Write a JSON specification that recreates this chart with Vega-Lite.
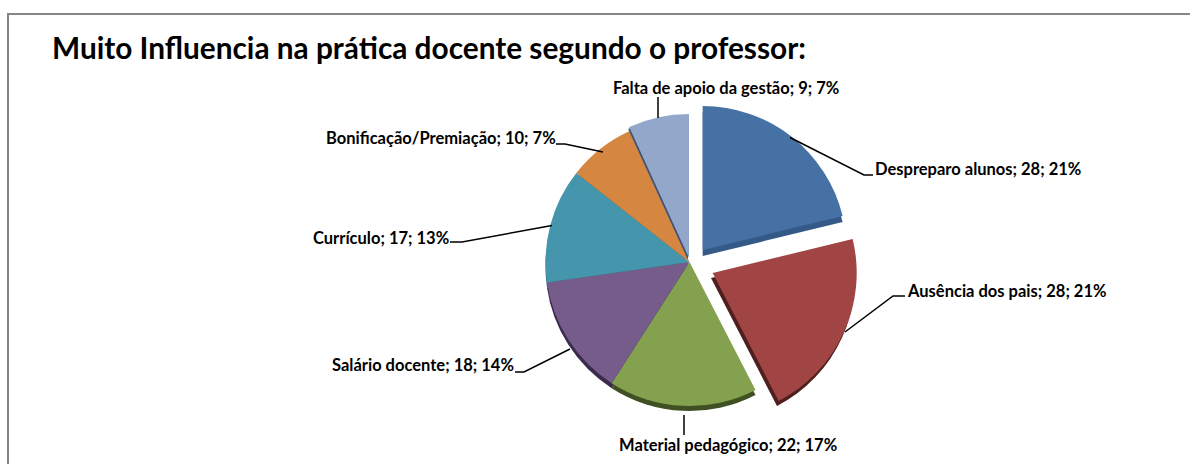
{
"$schema":"https://vega.github.io/schema/vega-lite/v6.json",
"width":1190,"height":464,"padding":0,"autosize":{"type":"none"},
"background":"white",
"view":{"stroke":null},
"title":{"text":"Muito Influencia na prática docente segundo o professor:","anchor":"start","frame":"group","dx":52,"dy":69,"font":"Lato","fontSize":29.8,"fontWeight":"bold","color":"#000000"},
"datasets":{
"fatias":[
{"categoria":"Despreparo alunos","valor":28,"ordem":1},
{"categoria":"Ausência dos pais","valor":28,"ordem":2},
{"categoria":"Material pedagógico","valor":22,"ordem":3},
{"categoria":"Salário docente","valor":18,"ordem":4},
{"categoria":"Currículo","valor":17,"ordem":5},
{"categoria":"Bonificação/Premiação","valor":10,"ordem":6},
{"categoria":"Falta de apoio da gestão","valor":9,"ordem":7}
],
"rotulos":[
{"rotulo":"Despreparo alunos; 28; 21%","px":875,"py":169.5},
{"rotulo":"Ausência dos pais; 28; 21%","px":908,"py":291.5},
{"rotulo":"Material pedagógico; 22; 17%","px":619,"py":445.5},
{"rotulo":"Salário docente; 18; 14%","px":332,"py":365.5},
{"rotulo":"Currículo; 17; 13%","px":313,"py":238.5},
{"rotulo":"Bonificação/Premiação; 10; 7%","px":326,"py":138.5},
{"rotulo":"Falta de apoio da gestão; 9; 7%","px":613,"py":88.5}
],
"guias":[
{"g":"a","n":1,"px":790,"py":137.5},{"g":"a","n":2,"px":864,"py":175},{"g":"a","n":3,"px":873,"py":175},
{"g":"b","n":1,"px":845,"py":332},{"g":"b","n":2,"px":893,"py":296},{"g":"b","n":3,"px":905,"py":296},
{"g":"c","n":1,"px":684,"py":415},{"g":"c","n":2,"px":684,"py":435},
{"g":"d","n":1,"px":570,"py":349},{"g":"d","n":2,"px":524,"py":372},{"g":"d","n":3,"px":515,"py":372},
{"g":"e","n":1,"px":552,"py":225.5},{"g":"e","n":2,"px":462,"py":242},{"g":"e","n":3,"px":450,"py":242},
{"g":"f","n":1,"px":603,"py":152},{"g":"f","n":2,"px":565,"py":144},{"g":"f","n":3,"px":556,"py":144},
{"g":"h","n":1,"px":658,"py":97},{"g":"h","n":2,"px":658,"py":118}
],
"moldura":[
{"n":1,"px":8,"py":464},{"n":2,"px":8,"py":14},{"n":3,"px":1190,"py":14}
]
},
"data":{"name":"fatias"},
"transform":[{"stack":"valor","sort":[{"field":"ordem","order":"ascending"}],"as":["a0","a1"]}],
"layer":[
{"data":{"name":"moldura"},"transform":[],"mark":{"type":"line","color":"#868686","strokeWidth":2,"clip":false},
 "encoding":{"x":{"field":"px","type":"quantitative","scale":{"domain":[0,1190],"nice":false,"zero":false},"axis":null},
 "y":{"field":"py","type":"quantitative","scale":{"domain":[0,464],"reverse":true,"nice":false,"zero":false},"axis":null},"order":{"field":"n"}}},
{"transform":[{"filter":"datum.ordem>=3 && datum.ordem<=6"}],"mark":{"type":"arc","outerRadius":144},
 "encoding":{"x":{"datum":689.5,"type":"quantitative"},"y":{"datum":267,"type":"quantitative"},
 "theta":{"field":"a0","type":"quantitative","scale":{"domain":[0,132]}},"theta2":{"field":"a1"},
 "color":{"field":"categoria","type":"nominal","legend":null,"scale":{"domain":["Material pedagógico","Salário docente","Currículo","Bonificação/Premiação"],"range":["#3f5022","#3a2b4d","#2d6475","#8f5525"]}}}},
{"transform":[{"filter":"datum.ordem>=3 && datum.ordem<=6"}],"mark":{"type":"arc","outerRadius":144},
 "encoding":{"x":{"datum":689.5,"type":"quantitative"},"y":{"datum":262,"type":"quantitative"},
 "theta":{"field":"a0","type":"quantitative","scale":{"domain":[0,132]}},"theta2":{"field":"a1"},
 "color":{"field":"categoria","type":"nominal","legend":null,"scale":{"domain":["Material pedagógico","Salário docente","Currículo","Bonificação/Premiação"],"range":["#84A14F","#755C8B","#4596AC","#D58741"]}}}},
{"transform":[{"filter":"datum.ordem==7"}],"mark":{"type":"arc","outerRadius":144},
 "encoding":{"x":{"datum":688,"type":"quantitative"},"y":{"datum":260,"type":"quantitative"},
 "theta":{"field":"a0","type":"quantitative","scale":{"domain":[0,132]}},"theta2":{"field":"a1"},
 "color":{"value":"#3f5272"}}},
{"transform":[{"filter":"datum.ordem==7"}],"mark":{"type":"arc","outerRadius":144},
 "encoding":{"x":{"datum":689,"type":"quantitative"},"y":{"datum":258,"type":"quantitative"},
 "theta":{"field":"a0","type":"quantitative","scale":{"domain":[0,132]}},"theta2":{"field":"a1"},
 "color":{"value":"#93A7CA"}}},
{"transform":[{"filter":"datum.ordem==1"}],"mark":{"type":"arc","outerRadius":144},
 "encoding":{"x":{"datum":702.7,"type":"quantitative"},"y":{"datum":256,"type":"quantitative"},
 "theta":{"field":"a0","type":"quantitative","scale":{"domain":[0,132]}},"theta2":{"field":"a1"},
 "color":{"value":"#355A87"}}},
{"transform":[{"filter":"datum.ordem==1"}],"mark":{"type":"arc","outerRadius":144},
 "encoding":{"x":{"datum":702.7,"type":"quantitative"},"y":{"datum":250,"type":"quantitative"},
 "theta":{"field":"a0","type":"quantitative","scale":{"domain":[0,132]}},"theta2":{"field":"a1"},
 "color":{"value":"#4671A4"}}},
{"transform":[{"filter":"datum.ordem==2"}],"mark":{"type":"arc","outerRadius":144},
 "encoding":{"x":{"datum":711,"type":"quantitative"},"y":{"datum":278,"type":"quantitative"},
 "theta":{"field":"a0","type":"quantitative","scale":{"domain":[0,132]}},"theta2":{"field":"a1"},
 "color":{"value":"#4F1F1E"}}},
{"transform":[{"filter":"datum.ordem==2"}],"mark":{"type":"arc","outerRadius":144},
 "encoding":{"x":{"datum":712.7,"type":"quantitative"},"y":{"datum":273,"type":"quantitative"},
 "theta":{"field":"a0","type":"quantitative","scale":{"domain":[0,132]}},"theta2":{"field":"a1"},
 "color":{"value":"#A04543"}}},
{"data":{"name":"guias"},"transform":[],"mark":{"type":"line","color":"#000000","strokeWidth":1.5},
 "encoding":{"x":{"field":"px","type":"quantitative"},"y":{"field":"py","type":"quantitative"},"detail":{"field":"g"},"order":{"field":"n"}}},
{"data":{"name":"rotulos"},"transform":[],"mark":{"type":"text","font":"Lato","fontSize":16.5,"fontWeight":"bold","align":"left","baseline":"middle","color":"#000000"},
 "encoding":{"x":{"field":"px","type":"quantitative"},"y":{"field":"py","type":"quantitative"},"text":{"field":"rotulo"}}}
],
"resolve":{"scale":{"color":"independent"}}
}
